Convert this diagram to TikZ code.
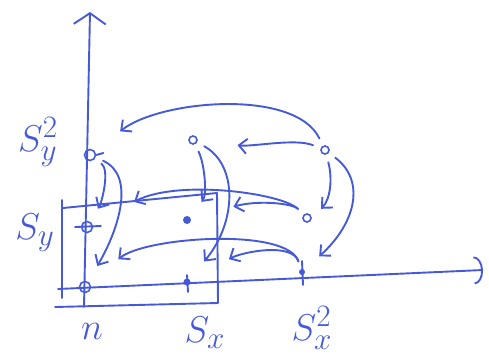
\documentclass[tikz,border=0pt]{standalone}
\usepackage{amsmath,amssymb}
\usepackage{xcolor}
\usepackage{tikz}
\usetikzlibrary{arrows.meta, calc}
\definecolor{ink}{RGB}{70,90,215}

\begin{document}
\begin{tikzpicture}[x=1pt, y=-1pt,
  pen/.style={draw=ink, line width=1.9pt, line cap=round, line join=round},
  knot/.style={circle, draw=ink, line width=1.6pt, inner sep=0pt, minimum size=11pt},
  blob/.style={circle, fill=ink, inner sep=0pt, minimum size=7pt},
  ring/.style={circle, draw=ink, line width=1.6pt, inner sep=0pt, minimum size=8pt},
  arrow/.style={pen, -{Straight Barb[length=8pt, width=15pt]}, shorten <=8pt},
  sum/.style={text=ink, font=\Huge, scale=1.5}
]
  \useasboundingbox (0,0) rectangle (489,359);
  \draw[pen, -{Straight Barb[length=11pt, width=32pt]}] (84,307) -- (90,12);
  \draw[pen, -{Arc Barb[length=9pt, width=28pt]}] (58,289) -- (483,270);
  \draw[pen] (62,200) -- (62,298);
  \draw[pen] (63,208) -- (217,193) -- (218,303) -- (55,307);
  \node[knot] (n) at (85,287) {};
  \node[knot, minimum height=9pt] (sy) at (87,227) {};
  \node[knot] (syy) at (90,155) {};
  \node[blob] (sx) at (187,282) {};
  \node[blob, minimum size=8pt] (sxy) at (187,220) {};
  \node[ring] (sxyy) at (193,140) {};
  \node[blob, minimum size=6pt] (sxx) at (302,272) {};
  \node[ring] (sxxy) at (307,218) {};
  \node[ring] (sxxyy) at (325,150) {};
  \draw[pen] ($(sy)+(-12,0)$) -- ($(sy)+(14,-1)$);
  \draw[pen] (syy.east) -- ++(7,-2);
  \draw[pen] ($(sx)+(0,-7)$) -- ($(sx)+(1,10)$);
  \draw[pen] ($(sxx)+(0,-11)$) -- ($(sxx)+(1,13)$);
  \node[sum] (lsyy) at (38,142) {$S_y^2$};
  \node[sum] (lsy) at (35,233) {$S_y$};
  \node[sum] (ln) at (92,331) {$n$};
  \node[sum] (lsx) at (205,333) {$S_x$};
  \node[sum] (lsxx) at (312,328) {$S_x^2$};
  \draw[arrow, shorten >=32pt] (sxxyy) .. controls +(-30,-62) and +(70,-55) .. (syy);
  \draw[arrow, shorten >=40pt] (sxxyy) .. controls +(-30,-12) and +(60,7) .. (sxyy);
  \draw[arrow, shorten >=15pt] (syy) .. controls +(20,15) and +(15,-25) .. (sy);
  \draw[arrow, shorten >=18pt] (syy) .. controls +(45,20) and +(35,-60) .. (n);
  \draw[arrow, shorten >=19pt] (sxyy) .. controls +(12,25) and +(20,-25) .. (sxy);
  \draw[arrow, shorten >=23pt] (sxyy) .. controls +(45,25) and +(50,-60) .. (sx);
  \draw[arrow, shorten >=13pt] (sxxyy) .. controls +(8,30) and +(18,-18) .. (sxxy.east);
  \draw[arrow, shorten >=20pt] (sxxyy) .. controls +(40,30) and +(55,-50) .. (sxx);
  \draw[arrow, shorten >=47pt] (sxxy) .. controls +(-25,-25) and +(90,-48) .. (sy);
  \draw[arrow, shorten >=44pt] (sxxy) .. controls +(-15,-15) and +(70,-20) .. (sxy);
  \draw[arrow, shorten >=37pt] (sxx) .. controls +(-15,-45) and +(60,-50) .. (n);
  \draw[arrow, shorten >=44pt] (sxx) .. controls +(-10,-30) and +(55,-30) .. (sx);
\end{tikzpicture}
\end{document}
